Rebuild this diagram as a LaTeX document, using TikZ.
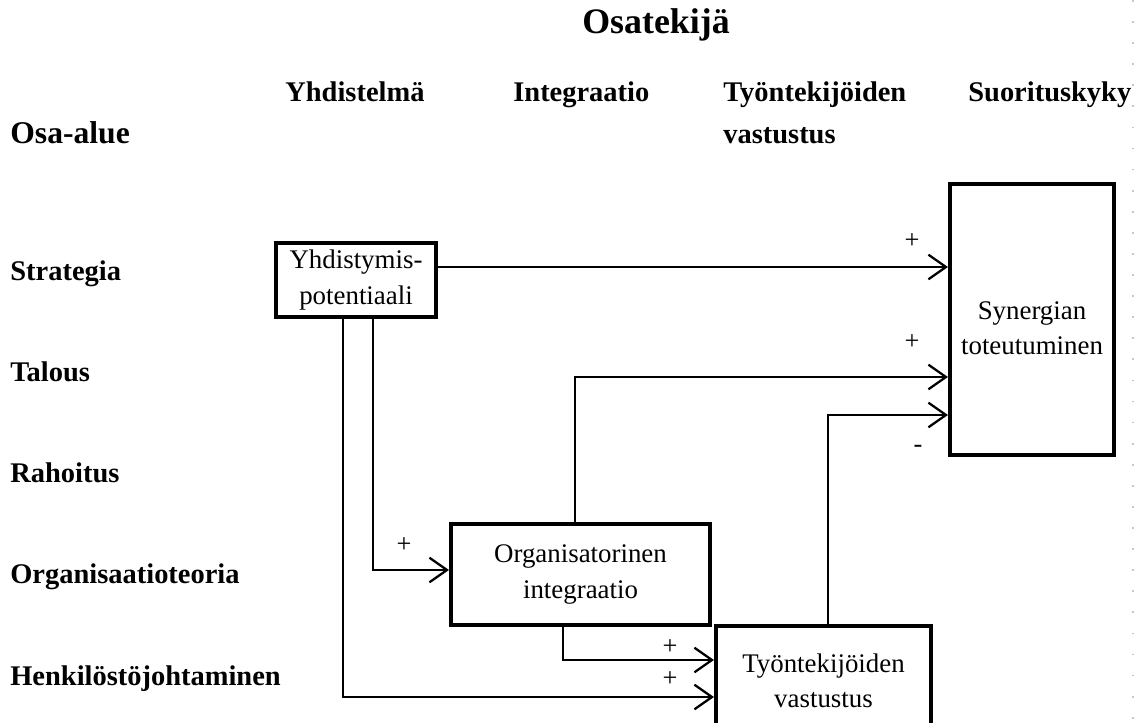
\documentclass[tikz,border=0pt]{standalone}
\usepackage{fontspec}
\setmainfont{Liberation Serif}
\usetikzlibrary{arrows.meta}
\tikzset{
  px/.style={x=0.02cm,y=-0.02cm},
  box/.style={draw,line width=2.3pt,inner sep=0pt,align=center,font=\fontsize{15.3}{20}\selectfont},
  arr/.style={line width=1.2pt,-{Straight Barb[length=10pt,width=14pt,line width=1.3pt]}},
  lab/.style={font=\bfseries\fontsize{16.2}{20}\selectfont,anchor=base west,inner sep=0pt},
  big/.style={font=\bfseries\fontsize{18}{22}\selectfont,anchor=base west,inner sep=0pt},
  sign/.style={font=\fontsize{15}{16}\selectfont,inner sep=0pt}
}
\begin{document}
\begin{tikzpicture}[px]
\useasboundingbox[clip] (0,0) rectangle (1139,723);
% faint page edge
\draw[gray!45,line width=0.8pt,dash pattern=on 1pt off 11pt] (1133,0) -- (1133,723);
% headings
\node[big,font=\bfseries\fontsize{20.4}{24}\selectfont] (ht) at (582,34) {Osatekijä};
\node[big] (hr) at (10,143) {Osa-alue};
\node[lab] (c1) at (285,102) {Yhdistelmä};
\node[lab] (c2) at (513,102) {Integraatio};
\node[lab] (c3) at (723,102) {Työntekijöiden};
\node[lab] (c3b) at (723,143) {vastustus};
\node[lab] (c4) at (968,102) {Suorituskyky};
% rows
\node[lab] (r1) at (10,280) {Strategia};
\node[lab] (r2) at (10,381) {Talous};
\node[lab] (r3) at (10,482) {Rahoitus};
\node[lab] (r4) at (10,583) {Organisaatioteoria};
\node[lab] (r5) at (10,685) {Henkilöstöjohtaminen};
% boxes
\node[box,minimum width=160*0.02cm,minimum height=74*0.02cm] (yp) at (356,280) {Yhdistymis-\\potentiaali};
\node[box,minimum width=164*0.02cm,minimum height=271*0.02cm] (syn) at (1032,319.5) {};
\node[font=\fontsize{15.3}{20}\selectfont,align=center,inner sep=0pt] (synt) at (1032,328) {Synergian\\toteutuminen};
\node[box,minimum width=259*0.02cm,minimum height=101*0.02cm] (org) at (580.5,574.5) {Organisatorinen\\integraatio};
\node[box,minimum width=215*0.02cm,minimum height=110*0.02cm] (tyo) at (823.5,681) {Työntekijöiden\\vastustus};
% helper coordinates
\coordinate (h1) at (0,267);
\coordinate (h2) at (575,377);
\coordinate (h3) at (828,415);
\coordinate (h4) at (373,570);
\coordinate (h5) at (343,697);
\coordinate (h6) at (563,660);
% connectors
\draw[arr] (yp.east |- h1) -- (syn.west |- h1);
\draw[arr] (org.north -| h2) |- (syn.west |- h2);
\draw[arr] (tyo.north -| h3) |- (syn.west |- h3);
\draw[arr] (yp.south -| h4) |- (org.west |- h4);
\draw[arr] (yp.south -| h5) |- (tyo.west |- h5);
\draw[arr] (org.south -| h6) |- (tyo.west |- h6);
% signs
\node[sign] (s1) at (912,241) {+};
\node[sign] (s2) at (912,342) {+};
\node[sign] (s3) at (918,449) {-};
\node[sign] (s4) at (404,545) {+};
\node[sign] (s5) at (670,647) {+};
\node[sign] (s6) at (670,679) {+};
\end{tikzpicture}
\end{document}
